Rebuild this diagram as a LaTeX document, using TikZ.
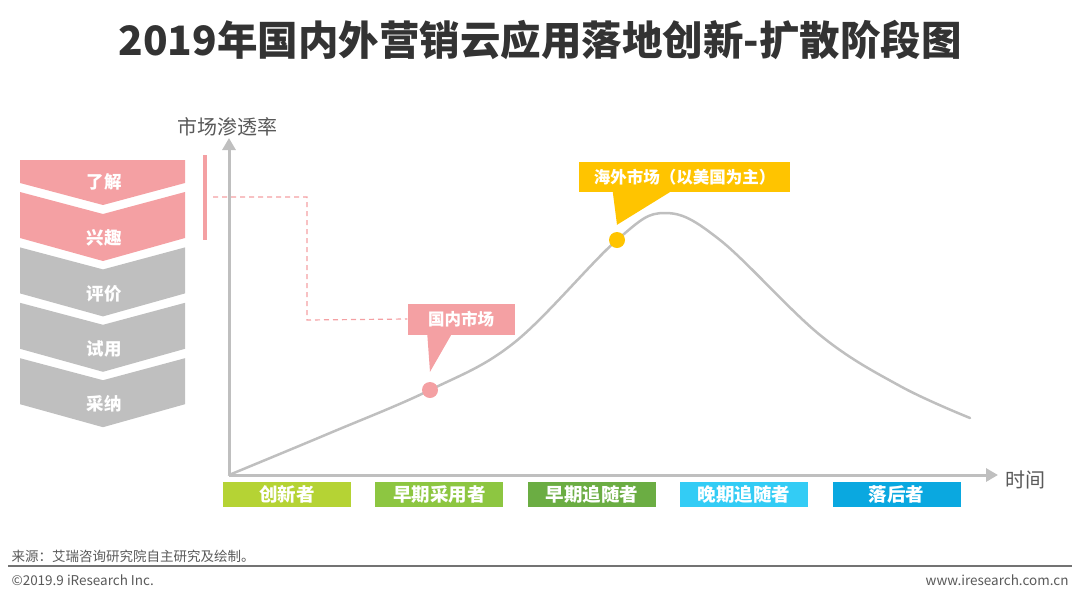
\documentclass[tikz,border=0pt]{standalone}
\usepackage{fontspec}
\setmainfont{Noto Sans CJK SC}
\usepackage{xcolor}
\usetikzlibrary{arrows.meta, positioning}

\definecolor{titlegray}{HTML}{333333}
\definecolor{axisgray}{HTML}{BFBFBF}
\definecolor{txtgray}{HTML}{595959}
\definecolor{pinkc}{HTML}{F4A0A3}
\definecolor{yellowc}{HTML}{FFC400}
\definecolor{limec}{HTML}{B5D334}
\definecolor{greenc}{HTML}{8DC641}
\definecolor{dgreenc}{HTML}{6BAD43}
\definecolor{lbluec}{HTML}{33CCF5}
\definecolor{bluec}{HTML}{0AA8E0}

\begin{document}
\begin{tikzpicture}[x=1pt, y=-1pt,
  chev/.style={fill=#1, draw=none},
  stagetxt/.style={font=\bfseries\fontsize{17.5}{20}\selectfont, text=white},
  axis/.style={draw=axisgray, line width=3pt, -{Triangle[length=12pt,width=13pt]}},
  axlabel/.style={font=\fontsize{20}{22}\selectfont, text=txtgray},
  callout/.style={fill=#1, inner sep=0pt, minimum height=31pt,
                  font=\bfseries\fontsize{16.5}{18}\selectfont, text=white},
  dot/.style={circle, fill=#1, inner sep=0pt, minimum size=16pt},
  group/.style={fill=#1, inner sep=0pt, minimum width=128pt, minimum height=25pt,
                font=\bfseries\fontsize{18.5}{20}\selectfont, text=white},
  foot/.style={font=\fontsize{13.5}{15}\selectfont, text=txtgray}
]
\useasboundingbox (0,0) rectangle (1080,598);

\node[font=\bfseries\fontsize{40.5}{44}\selectfont, text=titlegray] (title) at (540,40)
  {2019年国内外营销云应用落地创新-扩散阶段图};

% decision stages
\fill[chev=pinkc] (20,160) -- (185,160) -- (185,183) -- (103,205) -- (20,183) -- cycle;
\node[stagetxt] (s1) at (104,182) {了解};
\foreach \lbl/\col [count=\i from 0] in {兴趣/pinkc, 评价/axisgray, 试用/axisgray, 采纳/axisgray} {
  \pgfmathsetmacro{\t}{192+55.4*\i}
  \fill[chev=\col] (20,\t) -- (103,\t+22) -- (185,\t) -- (185,\t+46)
                   -- (103,\t+69) -- (20,\t+46) -- cycle;
  \node[stagetxt] (s\i x) at (104,\t+46) {\lbl};
}
\draw[pinkc, line width=4pt] (205,155) -- (205,240);
\coordinate (bar) at (213,197);

% axes
\coordinate (o) at (229,475);
\draw[axis] (o) -- (229,138);
\draw[axis] (o) -- (998,475);
\node[axlabel] (ylab) at (227,127) {市场渗透率};
\node[axlabel] (xlab) at (1025,480) {时间};

% diffusion curve
\draw[axisgray, line width=2.5pt, line cap=round] plot[smooth, tension=0.6] coordinates
  {(229,475) (330,433) (430,390) (515,342) (617,240) (665,213) (720,240)
   (820,335) (900,386) (970,418)};

% markets
\node[dot=pinkc] (domdot) at (430,390) {};
\node[dot=yellowc] (osdot) at (617,240) {};
\node[callout=pinkc, minimum width=107pt] (dom) at (461,319) {国内市场};
\node[callout=yellowc, minimum width=211pt, minimum height=30pt] (os) at (684.5,177)
  {海外市场（以美国为主）};
\fill[pinkc] ([xshift=20pt]dom.south west) -- ([xshift=44pt]dom.south west)
  -- ([yshift=10pt]domdot.north) -- cycle;
\fill[yellowc] ([xshift=34pt]os.south west) -- ([xshift=91pt]os.south west)
  -- ([yshift=7pt]osdot.north) -- cycle;
\draw[pinkc, line width=1.2pt, dash pattern=on 5pt off 4pt]
  (bar) -| (307,320) -- (dom.west);

% adopter groups
\node[group=limec] (g1) at (287,494.5) {创新者};
\node[group=greenc, right=24pt of g1] (g2) {早期采用者};
\node[group=dgreenc, right=24pt of g2] (g3) {早期追随者};
\node[group=lbluec, right=24pt of g3] (g4) {晚期追随者};
\node[group=bluec, right=24pt of g4] (g5) {落后者};

% footer
\node[foot, anchor=west] (src) at (8,556) {来源：艾瑞咨询研究院自主研究及绘制。};
\draw[black!55, line width=1.5pt] (8,566) -- (1072,566);
\node[foot, anchor=west] (copy) at (8,580) {©2019.9 iResearch Inc.};
\node[foot, anchor=east] (web) at (1072,580) {www.iresearch.com.cn};
\end{tikzpicture}
\end{document}
